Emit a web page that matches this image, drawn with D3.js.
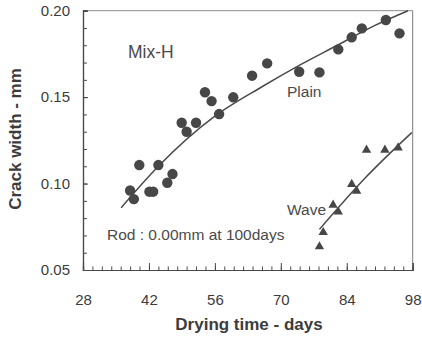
<!DOCTYPE html>
<html>
<head>
<meta charset="utf-8">
<script src="https://cdn.jsdelivr.net/npm/d3@7"></script>
<style>
  html, body { margin: 0; padding: 0; background: #fff; }
  svg { display: block; }
  text { font-family: "Liberation Sans", Arial, sans-serif; }
</style>
</head>
<body>
<svg id="chart" width="422" height="340"></svg>
<script>
// Plain specimens: crack width (mm) against drying time (days)
const plainDays  = [38.0, 38.8, 39.95, 42.1, 42.9, 44.0, 45.9, 47.0, 48.95, 50.0, 52.0, 53.9,
                    55.3, 56.9, 59.9, 63.9, 67.1, 73.9, 78.2, 82.2, 85.05, 87.2, 92.3, 95.2];
const plainWidth = [0.096, 0.091, 0.1107, 0.0953, 0.0953, 0.1107, 0.1005, 0.1055, 0.1352, 0.130, 0.1352, 0.1528,
                    0.1477, 0.1402, 0.1499, 0.1624, 0.1695, 0.1647, 0.1643, 0.1776, 0.1846, 0.1898, 0.1946, 0.1869];

// Wave specimens
const waveDays  = [78.2, 79.0, 81.1, 82.2, 85.05, 86.1, 88.2, 92.1, 94.9];
const waveWidth = [0.0635, 0.0718, 0.0876, 0.0837, 0.0996, 0.0957, 0.1194, 0.1194, 0.1207];

// Trend curves drawn through the scatter
const plainTrendDays  = [36.1, 44, 56, 66, 74, 82, 90, 97];
const plainTrendWidth = [0.086, 0.110, 0.139, 0.156, 0.1685, 0.180, 0.1915, 0.200];
const waveTrendDays  = [78.2, 88, 97.8];
const waveTrendWidth = [0.0735, 0.1035, 0.1295];

// Axis ticks
const xTicks = [28, 42, 56, 70, 84, 98];
const yTicks = [0.05, 0.10, 0.15, 0.20];

const svg = d3.select("#chart");
const plotLeft = 83, plotRight = 412.7, plotTop = 10.7, plotBottom = 270;

const x = d3.scaleLinear().domain([28, 98]).range([plotLeft, plotRight]);
const y = d3.scaleLinear().domain([0.05, 0.20]).range([plotBottom, plotTop]);

const ink = "#4a4a4a";
const textInk = "#3c3c3c";
const noteInk = "#4a4a4a";

// Frame (top and right edges)
svg.append("line").attr("x1", plotLeft).attr("x2", plotRight).attr("y1", plotTop).attr("y2", plotTop)
  .attr("stroke", "#8a8a8a").attr("stroke-width", 1);
svg.append("line").attr("x1", plotRight).attr("x2", plotRight).attr("y1", plotTop).attr("y2", plotBottom)
  .attr("stroke", "#7a7a7a").attr("stroke-width", 1);

// Bottom axis: inward ticks, minor every 2 days
const xAxisMinor = d3.axisBottom(x).tickValues(d3.range(28, 98.01, 2)).tickSize(-3.5).tickFormat("");
const xAxisMajor = d3.axisBottom(x).tickValues(xTicks).tickSize(-7).tickFormat(d3.format("d")).tickPadding(24);
const gxMinor = svg.append("g").attr("transform", `translate(0,${plotBottom})`).call(xAxisMinor);
const gx = svg.append("g").attr("transform", `translate(0,${plotBottom})`).call(xAxisMajor);
[gxMinor, gx].forEach(g => {
  g.select(".domain").attr("stroke", ink).attr("stroke-width", 1.2);
  g.selectAll(".tick line").attr("stroke", ink).attr("stroke-width", 1);
});
gx.selectAll(".tick text").attr("font-size", 15).attr("fill", textInk)
  .attr("font-family", "Liberation Sans, Arial, sans-serif");

// Left axis: inward ticks, minor every 0.01
const yAxisMinor = d3.axisLeft(y).tickValues(d3.range(0.05, 0.2001, 0.01)).tickSize(-4).tickFormat("");
const yAxisMajor = d3.axisLeft(y).tickValues(yTicks).tickSize(-5).tickFormat(d3.format(".2f")).tickPadding(13);
const gyMinor = svg.append("g").attr("transform", `translate(${plotLeft},0)`).call(yAxisMinor);
const gy = svg.append("g").attr("transform", `translate(${plotLeft},0)`).call(yAxisMajor);
[gyMinor, gy].forEach(g => {
  g.select(".domain").attr("stroke", ink).attr("stroke-width", 1.2);
  g.selectAll(".tick line").attr("stroke", ink).attr("stroke-width", 1);
});
gy.selectAll(".tick text").attr("font-size", 15).attr("fill", textInk)
  .attr("font-family", "Liberation Sans, Arial, sans-serif");

// Axis titles
svg.append("text").attr("x", 249).attr("y", 330).attr("text-anchor", "middle")
  .attr("font-size", 17).attr("font-weight", "bold").attr("fill", textInk)
  .text("Drying time - days");
svg.append("text").attr("transform", "translate(21,139) rotate(-90)").attr("text-anchor", "middle")
  .attr("font-size", 17).attr("font-weight", "bold").attr("fill", textInk)
  .text("Crack width - mm");

// Trend curves
const line = d3.line().x(d => x(d[0])).y(d => y(d[1])).curve(d3.curveMonotoneX);
svg.append("path").datum(d3.zip(plainTrendDays, plainTrendWidth)).attr("d", line)
  .attr("fill", "none").attr("stroke", ink).attr("stroke-width", 1.5);
svg.append("path").datum(d3.zip(waveTrendDays, waveTrendWidth)).attr("d", line)
  .attr("fill", "none").attr("stroke", ink).attr("stroke-width", 1.5);

// Plain points
svg.append("g").selectAll("circle").data(d3.zip(plainDays, plainWidth)).join("circle")
  .attr("cx", d => x(d[0])).attr("cy", d => y(d[1])).attr("r", 5.2)
  .attr("fill", "#474747");

// Wave points
const tri = d3.symbol().type(d3.symbolTriangle).size(38);
svg.append("g").selectAll("path").data(d3.zip(waveDays, waveWidth)).join("path")
  .attr("transform", d => `translate(${x(d[0])},${y(d[1])})`).attr("d", tri)
  .attr("fill", "#474747");

// Annotations
const notes = [
  { t: "Mix-H", x: 128, y: 57.7, size: 17.5 },
  { t: "Plain", x: 287, y: 97, size: 15.5 },
  { t: "Wave", x: 287, y: 215, size: 15.5 },
  { t: "Rod : 0.00mm at 100days", x: 107, y: 240, size: 15.5 }
];
svg.append("g").selectAll("text").data(notes).join("text")
  .attr("x", d => d.x).attr("y", d => d.y).attr("font-size", d => d.size).attr("fill", noteInk)
  .text(d => d.t);
</script>
</body>
</html>
